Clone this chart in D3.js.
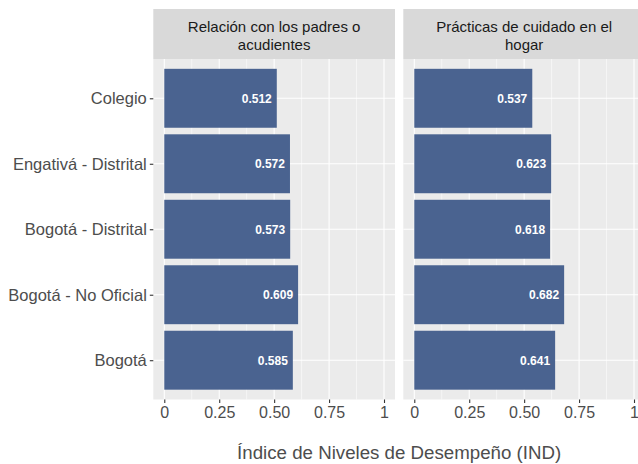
<!DOCTYPE html>
<html><head><meta charset="utf-8">
<script src="https://cdn.jsdelivr.net/npm/d3@7"></script>
<style>body{margin:0;background:#fff;} svg{display:block;}</style>
</head><body>
<svg id="c" width="638" height="464"></svg>
<script>
const categories = ["Colegio","Engativá - Distrital","Bogotá - Distrital","Bogotá - No Oficial","Bogotá"];
const panels = ["Relación con los padres o|acudientes","Prácticas de cuidado en el|hogar"];
const valuesPadres = [0.512,0.572,0.573,0.609,0.585];
const valuesCuidado = [0.537,0.623,0.618,0.682,0.641];
const xTicks = [0,0.25,0.5,0.75,1];
const xTickLabels = ["0","0.25","0.50","0.75","1"];
const xMinor = [0.125,0.375,0.625,0.875];
const xTitle = "Índice de Niveles de Desempeño (IND)";

const svg = d3.select("#c");
const font = "'Liberation Sans', Arial, sans-serif";
const panelTop = 59, panelBottom = 399.5, stripTop = 9;
const panelX = [[153.3,395],[403.3,645]];
const series = [valuesPadres, valuesCuidado];
const y = d3.scalePoint().domain(categories).range([panelTop,panelBottom]).padding(0.6);
const bandH = y.step()*0.9;

panels.forEach((title,i)=>{
  const [x0,x1] = panelX[i];
  const x = d3.scaleLinear().domain([-0.05,1.05]).range([x0,x1]);
  const g = svg.append("g");
  g.append("rect").attr("x",x0).attr("y",panelTop).attr("width",x1-x0).attr("height",panelBottom-panelTop).attr("fill","#EBEBEB");
  g.selectAll(".mn").data(xMinor).join("line").attr("x1",d=>x(d)).attr("x2",d=>x(d)).attr("y1",panelTop).attr("y2",panelBottom).attr("stroke","#fff").attr("stroke-width",0.55);
  g.selectAll(".mj").data(xTicks).join("line").attr("x1",d=>x(d)).attr("x2",d=>x(d)).attr("y1",panelTop).attr("y2",panelBottom).attr("stroke","#fff").attr("stroke-width",1.1);
  g.selectAll(".hy").data(categories).join("line").attr("x1",x0).attr("x2",x1).attr("y1",d=>y(d)).attr("y2",d=>y(d)).attr("stroke","#fff").attr("stroke-width",1.1);
  // strip
  g.append("rect").attr("x",x0).attr("y",stripTop).attr("width",x1-x0).attr("height",panelTop-stripTop).attr("fill","#D9D9D9");
  const lines = title.split("|");
  const cx = (x0+x1)/2;
  lines.forEach((ln,k)=>{
    g.append("text").attr("x",cx).attr("y",stripTop+23+k*17.5).attr("text-anchor","middle").attr("font-family",font).attr("font-size",15).attr("fill","#1A1A1A").text(ln);
  });
  // bars
  const vals = series[i];
  g.selectAll(".bar").data(categories).join("rect").attr("x",x(0)).attr("y",d=>y(d)-bandH/2).attr("width",(d,j)=>x(vals[j])-x(0)).attr("height",bandH).attr("fill","#4A6390");
  g.selectAll(".lbl").data(categories).join("text").attr("x",(d,j)=>x(vals[j])-5).attr("y",d=>y(d)).attr("dy","0.36em").attr("text-anchor","end").attr("font-family",font).attr("font-weight","bold").attr("font-size",12).attr("fill","#fff").text((d,j)=>d3.format(".3f")(vals[j]));
  // x axis
  const ax = d3.axisBottom(x).tickValues(xTicks).tickFormat((d,j)=>xTickLabels[j]).tickSize(3.5).tickPadding(3.5);
  const axg = svg.append("g").attr("transform",`translate(0,${panelBottom})`).call(ax);
  axg.select(".domain").remove();
  axg.selectAll("line").attr("stroke","#333").attr("stroke-width",1.1);
  axg.selectAll("text").attr("font-family",font).attr("font-size",16).attr("fill","#4D4D4D");
});

// y axis
const ay = d3.axisLeft(y).tickSize(3.5).tickPadding(3);
const ayg = svg.append("g").attr("transform",`translate(${panelX[0][0]},0)`).call(ay);
ayg.select(".domain").remove();
ayg.selectAll("line").attr("stroke","#333").attr("stroke-width",1.1);
ayg.selectAll("text").attr("font-family",font).attr("font-size",16.5).attr("fill","#4D4D4D");

svg.append("text").attr("x",(panelX[0][0]+panelX[1][1])/2).attr("y",459).attr("text-anchor","middle").attr("font-family",font).attr("font-size",18.7).attr("fill","#4D4D4D").text(xTitle);
</script>
</body></html>
